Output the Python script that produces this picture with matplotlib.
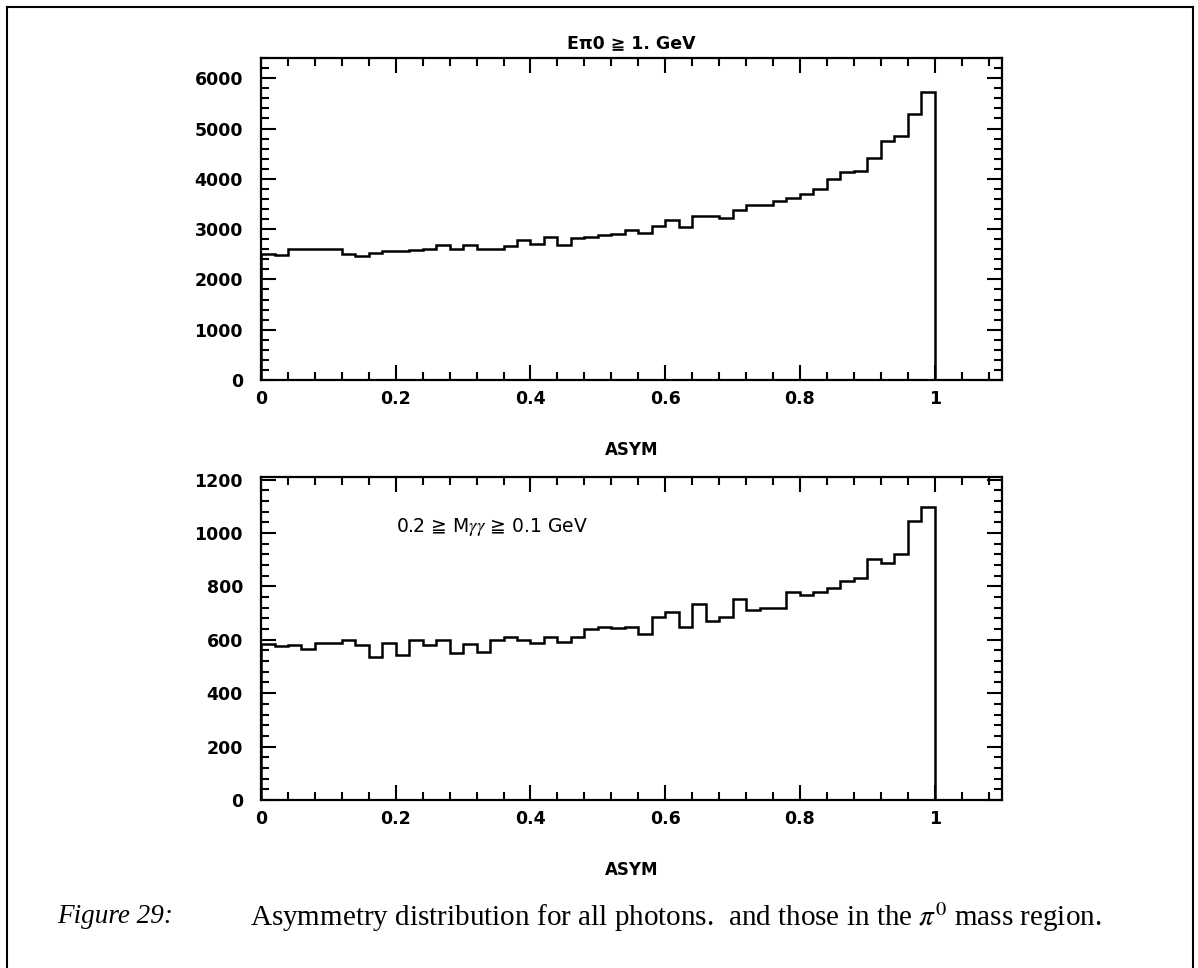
import numpy as np
import matplotlib
matplotlib.use("Agg")
import matplotlib.pyplot as plt
from matplotlib.lines import Line2D
from matplotlib.ticker import MultipleLocator, FuncFormatter

plt.rcParams['font.family'] = ['DejaVu Sans']
plt.rcParams['mathtext.fontset'] = 'stix'

# histogram binning: 50 bins of ASYM from 0 to 1
bin_lo = 0.0
bin_hi = 1.0
n_bins = 50

# all photons, E(pi0) >= 1 GeV
counts_all = [2500, 2490, 2600, 2600, 2600, 2610, 2500, 2460, 2520, 2560,
              2570, 2580, 2600, 2680, 2600, 2690, 2600, 2600, 2670, 2780,
              2700, 2850, 2690, 2830, 2850, 2880, 2900, 2990, 2920, 3070,
              3190, 3050, 3260, 3270, 3230, 3380, 3470, 3480, 3550, 3610,
              3700, 3790, 4000, 4140, 4160, 4420, 4750, 4860, 5290, 5720]

# pi0 mass region, 0.1 <= M(gg) <= 0.2 GeV
counts_pi0 = [585, 575, 582, 565, 587, 587, 600, 580, 537, 587,
              544, 600, 579, 600, 550, 585, 556, 600, 610, 600,
              587, 609, 590, 609, 640, 647, 644, 646, 621, 685,
              703, 647, 734, 669, 685, 752, 713, 720, 720, 778,
              769, 778, 795, 821, 831, 904, 887, 922, 1044, 1096]

title_top = "E\u03c00 \u2267 1. GeV"
note_bottom = "0.2 \u2267 M$\\gamma\\gamma$ \u2267 0.1 GeV"
xlabel = "ASYM"
caption_tag = "Figure 29:"
caption_text = "Asymmetry distribution for all photons.  and those in the $\\pi^0$ mass region."

edges = np.linspace(bin_lo, bin_hi, n_bins + 1)

fig = plt.figure(figsize=(11.98, 9.68), dpi=100)

ax1 = fig.add_axes([0.2179, 0.6074, 0.6185, 0.3326])
ax2 = fig.add_axes([0.2179, 0.1736, 0.6185, 0.3337])


def style_axis(ax, ymax, ymajor, yminor):
	ax.set_xlim(0, 1.1)
	ax.set_ylim(0, ymax)
	ax.xaxis.set_major_locator(MultipleLocator(0.2))
	ax.xaxis.set_minor_locator(MultipleLocator(0.04))
	ax.yaxis.set_major_locator(MultipleLocator(ymajor))
	ax.yaxis.set_minor_locator(MultipleLocator(yminor))
	ax.xaxis.set_major_formatter(FuncFormatter(lambda v, p: "%g" % round(v, 2)))
	ax.yaxis.set_major_formatter(FuncFormatter(lambda v, p: "%d" % v))
	ax.tick_params(which='both', direction='in', top=True, right=True, width=1.5, color='black')
	ax.tick_params(which='major', length=11)
	ax.tick_params(which='minor', length=6)
	ax.tick_params(axis='x', which='major', pad=7, labelsize=12.5)
	ax.tick_params(axis='y', which='major', pad=13, labelsize=12.5)
	for lab in ax.get_xticklabels() + ax.get_yticklabels():
		lab.set_fontweight('bold')
	for sp in ax.spines.values():
		sp.set_linewidth(1.6)
	ax.set_xlabel(xlabel, fontsize=12, fontweight='bold', labelpad=24)


ax1.stairs(counts_all, edges, color='black', linewidth=1.8)
style_axis(ax1, 6400, 1000, 200)
ax1.set_title(title_top, fontsize=12.5, fontweight='bold', pad=7)

ax2.stairs(counts_pi0, edges, color='black', linewidth=1.8)
style_axis(ax2, 1210, 200, 40)
ax2.text(0.2, 1024, note_bottom, fontsize=13.5, ha='left', va='center')

# caption
fig.text(0.0476, 0.0527, caption_tag, family='Liberation Serif', style='italic',
	fontsize=19.5, ha='left', va='center')
fig.text(0.2087, 0.0527, caption_text, family='Liberation Serif',
	fontsize=21, ha='left', va='center')

# page frame (open at the bottom)
lx, rx, ty = 7 / 1198, 1193 / 1198, 1 - 7 / 968
fig.add_artist(Line2D([lx, lx], [0, ty], color='black', lw=1.5, transform=fig.transFigure))
fig.add_artist(Line2D([lx, rx], [ty, ty], color='black', lw=1.5, transform=fig.transFigure))
fig.add_artist(Line2D([rx, rx], [0, ty], color='black', lw=1.5, transform=fig.transFigure))

fig.savefig("out.png", dpi=100)
